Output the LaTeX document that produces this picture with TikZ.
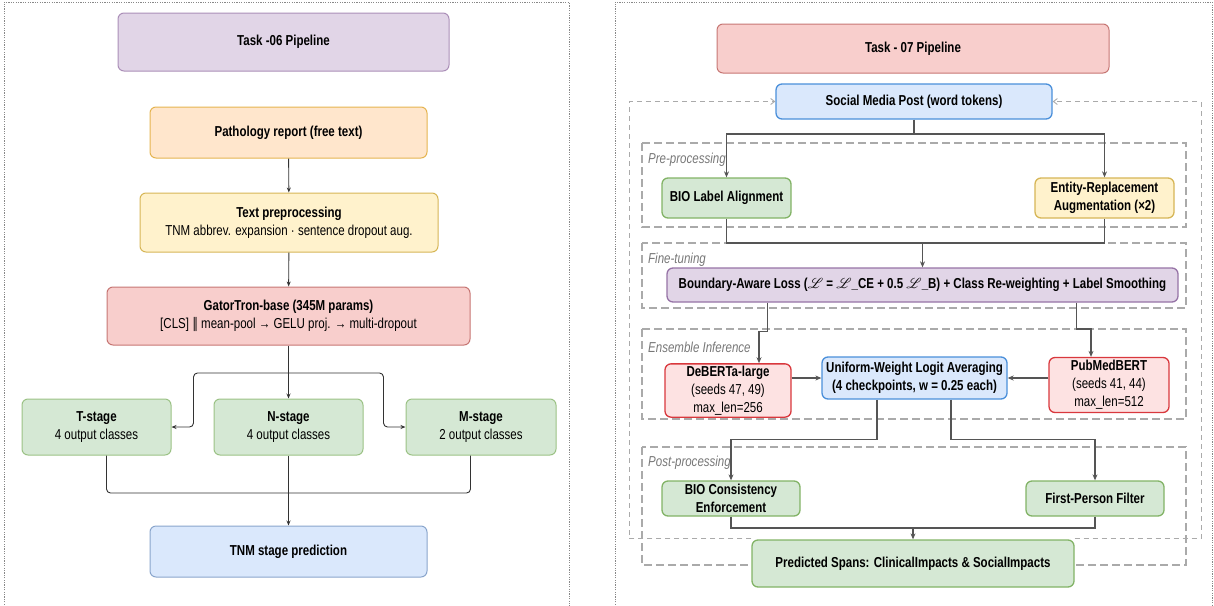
\documentclass[tikz,border=0pt]{standalone}
\usepackage{fontspec}
\usepackage{mathrsfs}
\setmainfont[FakeStretch=0.8]{Liberation Sans}
\newfontfamily\symfont[FakeStretch=0.8]{DejaVu Sans}
\usetikzlibrary{arrows.meta, calc, backgrounds}
\definecolor{cpurF}{HTML}{E1D5E7}
\definecolor{cpurD}{HTML}{9673A6}
\definecolor{corgF}{HTML}{FFE6CC}
\definecolor{corgD}{HTML}{E5B450}
\definecolor{cyelF}{HTML}{FFF2CC}
\definecolor{cyelD}{HTML}{D6B656}
\definecolor{credF}{HTML}{F8CECC}
\definecolor{credD}{HTML}{B85450}
\definecolor{croseF}{HTML}{FDE2E2}
\definecolor{croseD}{HTML}{D9383D}
\definecolor{cgrnF}{HTML}{D5E8D4}
\definecolor{cgrnD}{HTML}{82B366}
\definecolor{cbluF}{HTML}{DAE8FC}
\definecolor{cbluD}{HTML}{6C8EBF}
\definecolor{cskyD}{HTML}{4A8FDA}
\definecolor{cdark}{HTML}{333333}
\definecolor{cmid}{HTML}{555555}
\definecolor{cgroup}{HTML}{AAAAAA}
\definecolor{cglab}{HTML}{777777}
\definecolor{cpanel}{HTML}{888888}
\tikzset{
  every picture/.style={x=1pt, y=-1pt, font=\fontsize{14.4}{18}\selectfont},
  box/.style 2 args={draw=#1, fill=#2, rounded corners=6pt, align=center, inner sep=2pt, line width=1pt},
  link/.style={-{Stealth[length=5pt, width=4pt]}, draw=cdark, line width=0.9pt},
  line/.style={draw=cdark, line width=0.9pt},
  rlink/.style={-{Stealth[length=6pt, width=5pt]}, draw=cmid, line width=1.3pt},
  rline/.style={draw=cmid, line width=1.3pt},
  group/.style={draw=cgroup, dash pattern=on 8pt off 4pt, line width=1.1pt},
  grouplabel/.style={font=\fontsize{14.4}{18}\selectfont\itshape, text=cglab, anchor=west, inner sep=0pt},
  loopback/.style={draw=cgroup, dash pattern=on 5pt off 4pt, line width=0.9pt, -{Straight Barb[length=4pt, width=6pt]}},
  panel/.style={draw=cpanel, dash pattern=on 1.2pt off 1.2pt, line width=0.9pt},
}

\begin{document}
\begin{tikzpicture}
  \useasboundingbox (0,0) rectangle (1214,605);
  % panel frames
  \draw[panel] (4,612) -- (4,2) -- (569,2) -- (569,612);
  \draw[panel] (615,612) -- (615,2) -- (1212,2) -- (1212,612);

  % ---- task 06 ----
  \node[box={cpurD!80}{cpurF}, minimum width=331pt, minimum height=58pt] (task6) at (283.5,42) {\bfseries Task -06 Pipeline};
  \node[box={corgD}{corgF}, minimum width=277pt, minimum height=51pt] (report) at (288.5,132.5) {\bfseries Pathology report (free text)};
  \node[box={cyelD}{cyelF}, minimum width=298pt, minimum height=59pt] (prep) at (289,222.5) {\textbf{Text preprocessing}\\TNM abbrev. expansion · sentence dropout aug.};
  \node[box={credD!80}{credF}, minimum width=363pt, minimum height=58pt] (gator) at (288.5,316) {\textbf{GatorTron-base (345M params)}\\{}[CLS] {\symfont∥} mean-pool → GELU proj. → multi-dropout};
  \node[box={cgrnD!80}{cgrnF}, minimum width=149pt, minimum height=56pt] (tst) at (96.5,427) {\textbf{T-stage}\\4 output classes};
  \node[box={cgrnD!80}{cgrnF}, minimum width=149pt, minimum height=56pt] (nst) at (288.5,427) {\textbf{N-stage}\\4 output classes};
  \node[box={cgrnD!80}{cgrnF}, minimum width=150pt, minimum height=56pt] (mst) at (481,427) {\textbf{M-stage}\\2 output classes};
  \node[box={cbluD!80}{cbluF}, minimum width=277pt, minimum height=51pt] (tnm) at (288.5,551.5) {\bfseries TNM stage prediction};

  \draw[link] (report) -- (prep);
  \draw[link] (prep) -- (gator);
  \coordinate (split) at (288.5,373);
  \coordinate (merge) at (288.5,493);
  \draw[line] (gator) -- (split);
  \draw[link] (split) -- (nst);
  \draw[link, rounded corners=4pt] (split) -| ($(tst.east)+(22,0)$) -- (tst.east);
  \draw[link, rounded corners=4pt] (split) -| ($(mst.west)+(-22,0)$) -- (mst.west);
  \draw[line, rounded corners=4pt] (tst.south -| gator.west) |- (merge);
  \draw[line, rounded corners=4pt] (mst.south -| gator.east) |- (merge);
  \draw[link] (nst) -- (tnm);

  % ---- task 07 ----
  \node[box={credD!80}{credF}, minimum width=392pt, minimum height=49pt] (task7) at (913,48.5) {\bfseries Task - 07 Pipeline};
  \node[box={cskyD}{cbluF}, line width=1.3pt, minimum width=276pt, minimum height=35pt] (post) at (914,101.5) {\bfseries Social Media Post (word tokens)};
  \node[box={cgrnD}{cgrnF}, line width=1.3pt, minimum width=129pt, minimum height=40pt] (bioa) at (726.5,198) {\bfseries BIO Label Alignment};
  \node[box={cyelD}{cyelF}, line width=1.3pt, minimum width=139pt, minimum height=40pt] (entrep) at (1104.5,198) {\bfseries Entity-Replacement\\\bfseries Augmentation (×2)};
  \node[box={cpurD}{cpurF}, line width=1.3pt, minimum width=511pt, minimum height=34pt] (loss) at (922.5,285) {\bfseries Boundary-Aware Loss ($\mathscr{L}$ = $\mathscr{L}$\_CE + 0.5 $\mathscr{L}$\_B) + Class Re-weighting + Label Smoothing};
  \node[box={croseD}{croseF}, line width=1.3pt, minimum width=126pt, minimum height=51pt] (deberta) at (728,390.5) {\textbf{DeBERTa-large}\\(seeds 47, 49)\\max\_len=256};
  \node[box={cskyD}{cbluF}, line width=1.3pt, minimum width=185pt, minimum height=42pt] (avg) at (914.5,378) {\textbf{Uniform-Weight Logit Averaging}\\\textbf{(4 checkpoints, w = 0.25 each)}};
  \node[box={croseD}{croseF}, line width=1.3pt, minimum width=120pt, minimum height=55pt] (pubmed) at (1109,385) {\textbf{PubMedBERT}\\(seeds 41, 44)\\max\_len=512};
  \node[box={cgrnD}{cgrnF}, line width=1.3pt, minimum width=138pt, minimum height=35pt] (bioc) at (731,498.5) {\textbf{BIO Consistency}\\\textbf{Enforcement}};
  \node[box={cgrnD}{cgrnF}, line width=1.3pt, minimum width=138pt, minimum height=35pt] (fpf) at (1095,498.5) {\bfseries First-Person Filter};
  \node[box={cgrnD}{cgrnF}, line width=1.3pt, minimum width=322pt, minimum height=47pt] (spans) at (913,563.5) {\bfseries Predicted Spans: ClinicalImpacts \& SocialImpacts};

  % stage groups
  \begin{scope}[on background layer]
    \draw[group] (642,143) rectangle (1186,227);
    \draw[group] (642,243) rectangle (1186,308);
    \draw[group] (642,329) rectangle (1186,419);
    \draw[group] (642,447) rectangle (1186,565);
  \end{scope}
  \node[grouplabel] (lpre) at (648,160) {Pre-processing};
  \node[grouplabel] (lfine) at (648,260) {Fine-tuning};
  \node[grouplabel] (lens) at (648,347) {Ensemble Inference};
  \node[grouplabel] (lpost) at (648,463) {Post-processing};

  % feedback loop
  \coordinate (loopL) at (629,101.5);
  \coordinate (loopR) at (1201,101.5);
  \draw[loopback] ($(spans.north west)+(0,-1)$) -| (loopL) -- (post.west);
  \draw[loopback] ($(spans.north east)+(0,-1)$) -| (loopR) -- (post.east);

  \coordinate (split2) at (914,134);
  \coordinate (merge2) at (922.5,243);
  \coordinate (merge3) at (913,528);
  \draw[rline] (post) -- (split2);
  \draw[rlink] (split2) -| (bioa.north);
  \draw[rlink] (split2) -| (entrep.north);
  \draw[rline] (bioa.south) |- (merge2);
  \draw[rline] (entrep.south) |- (merge2);
  \draw[rlink] (merge2) -- (loss.north);
  \draw[rlink] ($(loss.south west)+(101,0)$) |- ($(deberta.north)+(31,-32)$) -- ($(deberta.north)+(31,0)$);
  \draw[rlink] ($(loss.south east)+(-102,0)$) |- ($(pubmed.north)+(-18,-28)$) -- ($(pubmed.north)+(-18,0)$);
  \draw[rlink] (avg.west -| deberta.east) -- (avg.west);
  \draw[rlink] (avg.east -| pubmed.west) -- (avg.east);
  \draw[rlink] ($(avg.south)+(-37.5,0)$) |- ($(bioc.north)+(0,-41)$) -- (bioc.north);
  \draw[rlink] ($(avg.south)+(36.5,0)$) |- ($(fpf.north)+(0,-41)$) -- (fpf.north);
  \draw[rline] (bioc.south) |- (merge3);
  \draw[rline] (fpf.south) |- (merge3);
  \draw[rlink] (merge3) -- (spans.north);
\end{tikzpicture}
\end{document}
